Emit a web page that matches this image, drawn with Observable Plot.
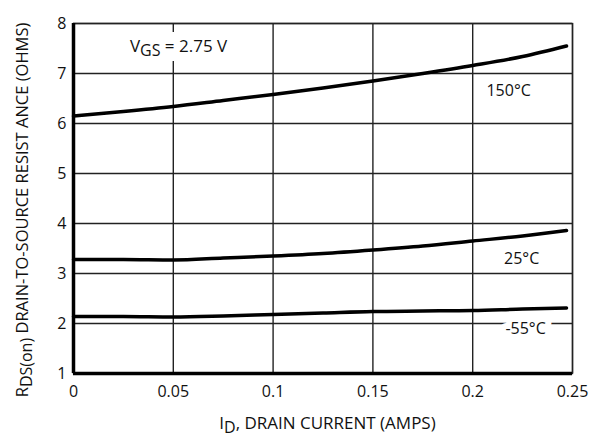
<!DOCTYPE html>
<html>
<head>
<meta charset="utf-8">
<script src="https://cdn.jsdelivr.net/npm/d3@7"></script>
<script src="https://cdn.jsdelivr.net/npm/@observablehq/plot@0.6"></script>
<style>
  html, body { margin: 0; padding: 0; background: #fff; }
  svg { font-family: "Open Sans", "Noto Sans", sans-serif; }
</style>
</head>
<body>
<div id="chart"></div>
<script>
// Drain current (A)
const current = [0, 0.025, 0.05, 0.075, 0.1, 0.125, 0.15, 0.175, 0.2, 0.225, 0.247];
// RDS(on) (ohms) per temperature
const r150 = [6.15, 6.24, 6.34, 6.46, 6.58, 6.71, 6.85, 7.0, 7.16, 7.34, 7.55];
const r25  = [3.28, 3.28, 3.27, 3.31, 3.35, 3.40, 3.47, 3.55, 3.65, 3.75, 3.86];
const r55  = [2.14, 2.14, 2.13, 2.15, 2.18, 2.21, 2.24, 2.25, 2.26, 2.29, 2.31];
const seriesNames = ["150°C", "25°C", "-55°C"];
const xTicks = [0, 0.05, 0.1, 0.15, 0.2, 0.25];
const xTickLabels = ["0", "0.05", "0.1", "0.15", "0.2", "0.25"];
const yTicks = [1, 2, 3, 4, 5, 6, 7, 8];

const seriesValues = [r150, r25, r55];
const data = seriesNames.flatMap((name, k) =>
  current.map((c, i) => ({series: name, id: c, r: seriesValues[k][i]})));

const labels = [
  {series: "150°C", id: 0.218, r: 6.65},
  {series: "25°C",  id: 0.2245, r: 3.3},
  {series: "-55°C", id: 0.2265, r: 1.9}
];

const chart = Plot.plot({
  width: 594,
  height: 439,
  marginLeft: 73,
  marginRight: 22,
  marginTop: 23,
  marginBottom: 66,
  style: {fontFamily: '"Open Sans", "Noto Sans", sans-serif', background: "#fff"},
  x: {domain: [0, 0.25], ticks: xTicks, label: null},
  y: {domain: [1, 8], ticks: yTicks, label: null},
  marks: [
    Plot.gridX(xTicks, {stroke: "#222", strokeOpacity: 1, strokeWidth: 1.4}),
    Plot.gridY(yTicks, {stroke: "#222", strokeOpacity: 1, strokeWidth: 1.4}),
    Plot.frame({stroke: "#222", strokeWidth: 1.4}),
    Plot.text(labels.slice(2), {x: "id", y: "r", text: "series", fontSize: 16, fill: "white",
      stroke: "white", strokeWidth: 12, textAnchor: "middle"}),
    Plot.text(labels, {x: "id", y: "r", text: "series", fontSize: 16, fill: "#111", textAnchor: "middle"}),
    Plot.line(data, {x: "id", y: "r", z: "series", stroke: "#000", strokeWidth: 3.5, curve: "monotone-x"}),
    Plot.ruleX([0], {stroke: "#000", strokeWidth: 3.5}),
    Plot.ruleY([1], {stroke: "#000", strokeWidth: 3.5}),
    Plot.axisX(xTicks, {tickSize: 0, tickPadding: 12, fontSize: 16, fill: "#111",
      tickFormat: (d, i) => xTickLabels[i], label: null}),
    Plot.axisY(yTicks, {tickSize: 0, tickPadding: 7, fontSize: 16, fill: "#111",
      tickFormat: d => String(d), label: null})
  ]
});

document.getElementById("chart").appendChild(chart);

// Rich text labels with subscripts
const svg = d3.select(chart);
const sx = chart.scale("x"), sy = chart.scale("y");

function rich(parent, parts, attrs) {
  const t = parent.append("text")
    .attr("font-family", '"Open Sans", "Noto Sans", sans-serif')
    .attr("fill", "#111");
  for (const [k, v] of Object.entries(attrs)) t.attr(k, v);
  for (const p of parts) {
    const ts = t.append("tspan").text(p.t);
    if (p.sub) ts.attr("font-size", p.size).attr("dy", p.dy);
    else if (p.dy) ts.attr("dy", p.dy);
  }
  return t;
}

// VGS annotation with white background
const vgs = rich(svg, [
  {t: "V"},
  {t: "GS", sub: true, size: 16, dy: 4},
  {t: " = 2.75 V", dy: -4}
], {x: sx.apply(0.0285), y: sy.apply(7.42), "font-size": 17, "text-anchor": "start"});
const bb = vgs.node().getBBox();
svg.insert("rect", () => vgs.node())
  .attr("x", bb.x - 2).attr("y", bb.y - 2)
  .attr("width", bb.width + 4).attr("height", bb.height + 2)
  .attr("fill", "white");

// x axis label
rich(svg, [
  {t: "I"},
  {t: "D", sub: true, size: 16, dy: 4},
  {t: ", DRAIN CURRENT (AMPS)", dy: -4}
], {x: (sx.apply(0) + sx.apply(0.25)) / 2 + 5, y: 429, "font-size": 17, "text-anchor": "middle"});

// y axis label (rotated)
rich(svg, [
  {t: "R"},
  {t: "DS(on)", sub: true, size: 16, dy: 4},
  {t: " DRAIN-TO-SOURCE RESIST ANCE (OHMS)", dy: -4}
], {transform: `translate(28, ${(sy.apply(1) + sy.apply(8)) / 2 + 12}) rotate(-90)`,
    "font-size": 16.5, "text-anchor": "middle"});
</script>
</body>
</html>
